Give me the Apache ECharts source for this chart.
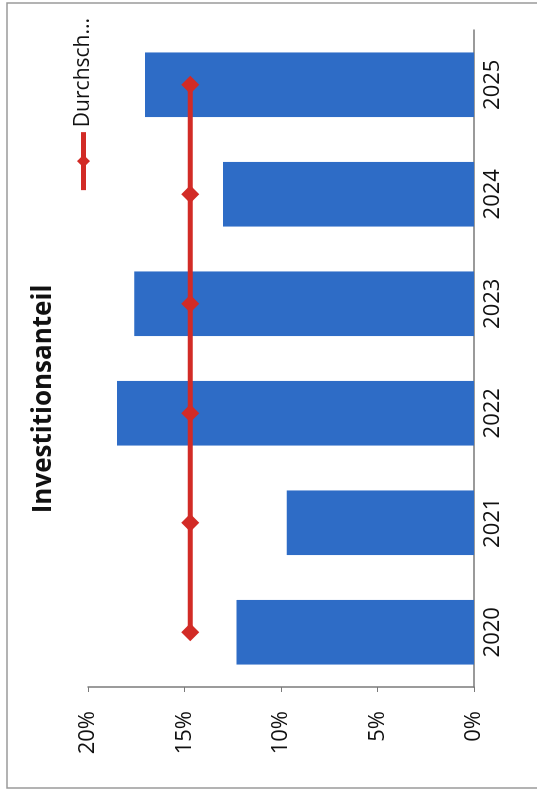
<!DOCTYPE html>
<html lang="de">
<head>
    <meta charset="UTF-8">
    <title>Investitionsanteil</title>
    <style>
        html, body { margin: 0; padding: 0; background: #fff; overflow: hidden; }
        /* chart is laid out landscape, then turned a quarter to the left like the scan */
        #main {
            position: absolute; left: 0; top: 0;
            width: 798px; height: 537px;
            transform-origin: 0 0;
            transform: translate(0, 798px) rotate(-90deg);
        }
    </style>
</head>
<body>

<div id="main"></div>

<script src="https://cdn.jsdelivr.net/npm/echarts@6/dist/echarts.min.js"></script>
<script type="text/javascript">
    // data
    var jahre = ['2020', '2021', '2022', '2023', '2024', '2025'];
    var anteil = [0.123, 0.097, 0.185, 0.176, 0.130, 0.1705];
    var durchschnitt = [0.147, 0.147, 0.147, 0.147, 0.147, 0.147];
    var wertTicks = [0, 0.05, 0.10, 0.15, 0.20];

    var schrift = '"Open Sans", "Liberation Sans", sans-serif';
    var myChart = echarts.init(document.getElementById('main'));

    var option = {
        backgroundColor: '#fff',
        animation: false,
        title: {
            text: 'Investitionsanteil',
            left: 'center',
            top: 31,
            padding: 0,
            textStyle: { fontFamily: schrift, fontSize: 26, fontWeight: 'bold', color: '#111' }
        },
        legend: {
            data: ['Durchschnitt'],
            right: 13,
            top: 68,
            itemWidth: 58,
            itemHeight: 16,
            itemGap: 5,
            lineStyle: { width: 5, color: '#d22b26' },
            formatter: function () { return 'Durchsch...'; },
            textStyle: { fontFamily: schrift, fontSize: 21, color: '#111' }
        },
        grid: { left: 111, right: 30, top: 88, bottom: 63 },
        xAxis: {
            type: 'category',
            data: jahre,
            axisLine: { lineStyle: { color: '#7a7a7a', width: 1.5 } },
            axisTick: { length: 6, lineStyle: { color: '#7a7a7a' } },
            axisLabel: { margin: 8, fontFamily: schrift, fontSize: 22, color: '#111' }
        },
        yAxis: {
            type: 'value',
            min: wertTicks[0],
            max: wertTicks[wertTicks.length - 1],
            interval: 0.05,
            splitLine: { show: false },
            axisLine: { show: true, lineStyle: { color: '#7a7a7a', width: 1.5 } },
            axisTick: { show: true, length: 5, lineStyle: { color: '#7a7a7a' } },
            axisLabel: {
                margin: 24,
                fontFamily: schrift, fontSize: 22, color: '#111',
                formatter: function (v) { return Math.round(v * 100) + '%'; }
            }
        },
        series: [
            {
                name: 'Investitionsanteil',
                type: 'bar',
                data: anteil,
                barCategoryGap: '41%',
                itemStyle: { color: '#2e6cc6' }
            },
            {
                name: 'Durchschnitt',
                type: 'line',
                data: durchschnitt,
                symbol: 'diamond',
                symbolSize: 18,
                lineStyle: { color: '#d22b26', width: 5 },
                itemStyle: { color: '#d22b26' }
            }
        ],
        graphic: [
            {
                type: 'rect',
                shape: { x: 10, y: 7, width: 785, height: 540 },
                style: { fill: 'none', stroke: '#9a9a9a', lineWidth: 1.5 },
                silent: true
            }
        ]
    };

    myChart.setOption(option);
</script>
</body>
</html>
